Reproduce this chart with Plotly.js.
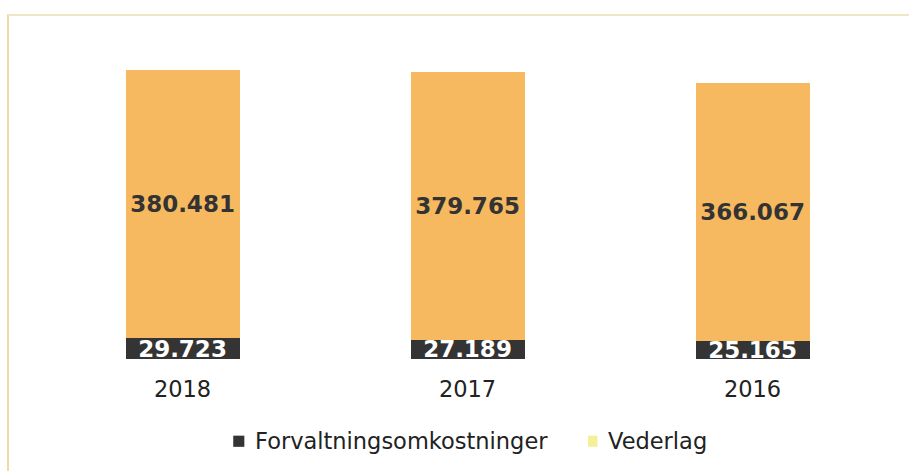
<!DOCTYPE html>
<html><head><meta charset="utf-8">
<script src="https://cdn.plot.ly/plotly-3.0.1.min.js"></script>
<style>
html,body{margin:0;padding:0;background:#fff;}
#frame{position:absolute;left:7px;top:14px;width:902px;height:457px;border-top:2px solid #efe6c4;border-left:2px solid #f3d9a6;box-sizing:border-box;pointer-events:none;z-index:5;}
#chart{width:909px;height:471px;}
</style></head>
<body>
<div id="frame"></div>
<div id="chart"></div>
<script>
const years = ['2018', '2017', '2016'];
const forvaltning = [29.723, 27.189, 25.165];
const vederlag = [380.481, 379.765, 366.067];
const seriesNames = ['Forvaltningsomkostninger', 'Vederlag'];
const fmt = v => v.toFixed(3);

const darkColor = '#343434';
const orangeColor = '#f6b95f';
const legendColors = ['#343434', '#f4f09a'];

const traces = [
  {type:'bar', x:years, y:forvaltning, name:seriesNames[0], showlegend:false,
   marker:{color:darkColor},
   text:forvaltning.map(fmt), textposition:'inside', insidetextanchor:'middle', constraintext:'none',
   textfont:{family:'DejaVu Sans', size:23, color:'#ffffff', weight:700}},
  {type:'bar', x:years, y:vederlag, name:seriesNames[1], showlegend:false,
   marker:{color:orangeColor},
   text:vederlag.map(fmt), textposition:'inside', insidetextanchor:'middle', constraintext:'none',
   textfont:{family:'DejaVu Sans', size:23, color:'#333333', weight:700}}
];

// manual legend (swatch squares + labels), paper coords
const swatchX = [[0.226, 0.239], [0.641, 0.652]];
const labelX = [0.249, 0.662];
const shapes = seriesNames.map((n, i) => ({
  type:'rect', xref:'paper', yref:'paper',
  x0:swatchX[i][0], x1:swatchX[i][1], y0:-0.267, y1:-0.233,
  fillcolor:legendColors[i], line:{width:0}
}));
const annotations = seriesNames.map((n, i) => ({
  xref:'paper', yref:'paper', x:labelX[i], y:-0.25, xanchor:'left', yanchor:'middle',
  text:n, showarrow:false, font:{family:'DejaVu Sans', size:22.5, color:'#222222'}
}));

const layout = {
  width:909, height:471,
  margin:{l:40, r:14, t:30, b:112, autoexpand:false},
  barmode:'stack', bargap:0.6,
  paper_bgcolor:'#ffffff', plot_bgcolor:'#ffffff',
  font:{family:'DejaVu Sans', size:22, color:'#222222'},
  xaxis:{type:'category', showgrid:false, zeroline:false, showline:false, ticks:'',
         ticklabelstandoff:14,
         tickfont:{family:'DejaVu Sans', size:22.5, color:'#222222'}},
  yaxis:{range:[0,467], visible:false, showgrid:false, zeroline:false},
  showlegend:false,
  shapes:shapes,
  annotations:annotations
};

Plotly.newPlot('chart', traces, layout, {displayModeBar:false, staticPlot:true});
</script>
</body></html>
